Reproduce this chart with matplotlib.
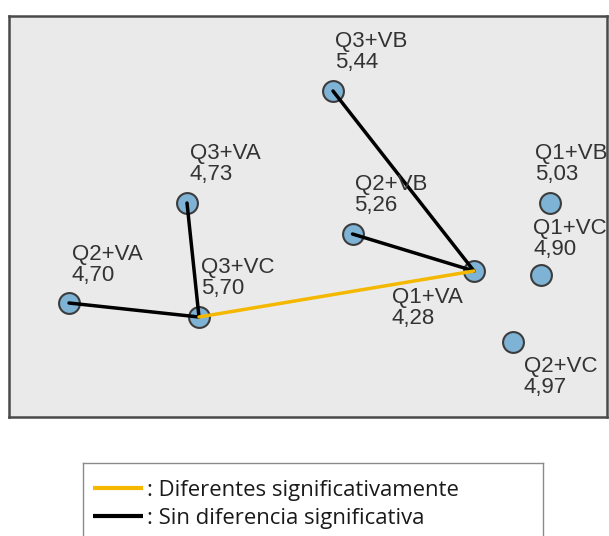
import matplotlib
matplotlib.use("Agg")
import matplotlib.pyplot as plt

# ---- data ----
names = ["Q1+VA", "Q1+VB", "Q1+VC", "Q2+VA", "Q2+VB", "Q2+VC", "Q3+VA", "Q3+VB", "Q3+VC"]
means = ["4,28", "5,03", "4,90", "4,70", "5,26", "4,97", "4,73", "5,44", "5,70"]
x_pos = [465.5, 541.5, 532.5, 60.5, 344.0, 504.5, 178.5, 324.5, 190.5]
y_pos = [146.0, 214.0, 142.0, 114.0, 183.0, 75.0, 214.0, 326.0, 100.0]

sig_pairs = [("Q3+VC", "Q1+VA")]
nonsig_pairs = [("Q2+VA", "Q3+VC"), ("Q3+VA", "Q3+VC"), ("Q2+VB", "Q1+VA"), ("Q3+VB", "Q1+VA")]

legend_labels = [": Diferentes significativamente", ": Sin diferencia significativa"]
legend_colors = ["#F5B800", "black"]

# label placement (pixel offsets from point to text top-left)
label_offsets = {
    "Q1+VA": (-82, 16), "Q1+VB": (-15, -60), "Q1+VC": (-8, -57),
    "Q2+VA": (3, -59), "Q2+VB": (2, -60), "Q2+VC": (11, 14),
    "Q3+VA": (3, -60), "Q3+VB": (2, -60), "Q3+VC": (2, -60),
}

W, H = 609, 536
fig = plt.figure(figsize=(W / 100, H / 100), dpi=100)
ax_l, ax_r, ax_t, ax_b = 8.5, 607, 15.5, 417
ax = fig.add_axes([ax_l / W, 1 - ax_b / H, (ax_r - ax_l) / W, (ax_b - ax_t) / H])
ax.set_xlim(0, ax_r - ax_l)
ax.set_ylim(0, ax_b - ax_t)
ax.set_facecolor("#EAEAEA")
ax.set_xticks([])
ax.set_yticks([])
for s in ax.spines.values():
    s.set_color("#4a4a4a")
    s.set_linewidth(1.8)

idx = {n: i for i, n in enumerate(names)}

ax.scatter(x_pos, y_pos, s=15.0 ** 2, c="#7FB3D5", edgecolors="#3c3c3c",
           linewidths=1.5, zorder=2)

for a, b in nonsig_pairs:
    ax.plot([x_pos[idx[a]], x_pos[idx[b]]], [y_pos[idx[a]], y_pos[idx[b]]],
            color="black", lw=2.5, solid_capstyle="round", zorder=3)
for a, b in sig_pairs:
    ax.plot([x_pos[idx[a]], x_pos[idx[b]]], [y_pos[idx[a]], y_pos[idx[b]]],
            color="#F5B800", lw=2.5, solid_capstyle="round", zorder=3)

for n, m, x, y in zip(names, means, x_pos, y_pos):
    dx, dy = label_offsets[n]
    ax.annotate(f"{n}\n{m}", (x, y), xytext=(dx * 0.72, -dy * 0.72),
                textcoords="offset points", ha="left", va="top",
                fontsize=16, family="Liberation Sans", color="#333333",
                linespacing=1.02, zorder=4, annotation_clip=False)

# ---- legend box (drawn in pixel units, extends below the canvas) ----
lg_l, lg_r, lg_t, lg_b = 83, 543, 463, 570
lax = fig.add_axes([lg_l / W, 1 - lg_b / H, (lg_r - lg_l) / W, (lg_b - lg_t) / H])
lax.set_xlim(lg_l, lg_r)
lax.set_ylim(lg_b, lg_t)
lax.set_xticks([])
lax.set_yticks([])
lax.set_facecolor("white")
for s in lax.spines.values():
    s.set_color("#8a8a8a")
    s.set_linewidth(1.0)

row_y = [488, 516]
for lab, col, ry in zip(legend_labels, legend_colors, row_y):
    lax.plot([93, 143], [ry, ry], color=col, lw=3.0, solid_capstyle="butt")
    lax.text(147, ry + 8.5, lab, ha="left", va="baseline",
             family="Open Sans", fontsize=15.9, color="#1a1a1a")

fig.savefig("out.png", dpi=100)
